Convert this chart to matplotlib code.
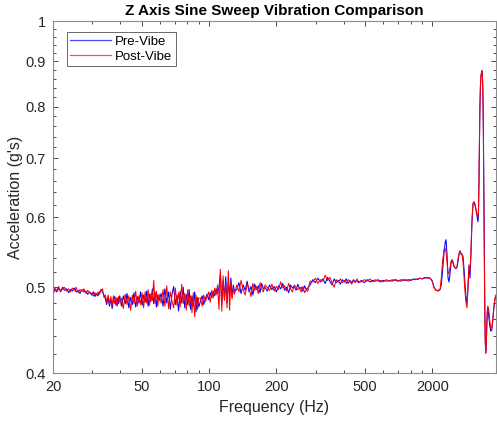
import numpy as np
import matplotlib
matplotlib.use("Agg")
import matplotlib.pyplot as plt
from matplotlib.lines import Line2D
from matplotlib.ticker import FixedLocator, NullFormatter, LogLocator

plt.rcParams['font.family'] = ['Liberation Sans', 'DejaVu Sans']

# Sweep frequencies (Hz)
freq = [
    # 20-29 Hz
    20.0, 20.4, 20.8, 21.2, 21.6, 22.1, 22.5, 23.0, 23.5, 23.9, 24.4, 24.9, 25.4, 25.9, 26.4, 27.0, 27.5, 28.1, 28.6, 29.2,
    # 30-40 Hz
    29.8, 30.3, 30.8, 31.3, 31.8, 32.3, 32.8, 33.3, 33.8, 34.3, 34.8, 35.3, 35.8, 36.3, 36.8, 37.3, 37.8, 38.3, 38.8, 39.3, 39.8,
    # 40-60 Hz
    40.5, 41.3, 42.1, 42.9, 43.7, 44.5, 45.3, 46.1, 46.9, 47.7, 48.5, 49.3, 50.1, 50.9, 51.7, 52.5, 53.3, 54.1, 54.9, 55.7,
    56.5, 57.3, 58.1, 58.9, 59.7,
    # 60-90 Hz
    61.0, 62.2, 63.4, 64.6, 65.8, 67.0, 68.2, 69.4, 70.6, 71.8, 73.0, 74.2, 75.4, 76.6, 77.8, 79.0, 80.2, 81.4, 82.6, 83.8,
    85.0, 86.2, 87.4, 88.6, 89.8,
    # 90-130 Hz
    91.5, 93.1, 94.7, 96.3, 97.9, 99.5, 101.1, 102.7, 104.3, 105.9, 107.5, 109.1, 110.7, 112.3, 113.9, 115.5, 117.1, 118.7,
    120.3, 121.9, 123.5, 125.1, 126.7, 128.3, 129.9,
    # 130-280 Hz
    133, 136, 139, 142, 145, 148, 151, 154, 157, 160, 163, 166, 169, 172, 175, 178, 182, 186.5, 191, 195.5, 200, 204.5,
    209, 213.5, 218, 222.5, 227, 231.5, 236, 240.5, 245, 249.5, 254, 258.5, 263, 267.5, 272, 276.5,
    # 280-470 Hz
    283, 291, 299, 307, 315, 323, 331, 339, 347, 355, 363, 371, 379, 387, 395, 403, 411, 419, 427, 435, 443, 451, 459, 467,
    # 480-960 Hz
    480, 495, 510, 525, 540, 555, 570, 585, 600, 620, 640, 660, 680, 700, 720, 740, 760, 780, 800, 820, 840, 860, 880, 900,
    920, 940, 956,
    # resonance region
    976, 996, 1017, 1038, 1059, 1081, 1095, 1110, 1127, 1140, 1150, 1162, 1174, 1186, 1198, 1211, 1223, 1236, 1249, 1262,
    1275, 1288, 1301, 1315, 1328, 1342, 1356, 1370, 1384, 1398, 1413, 1427, 1442, 1457, 1472, 1487, 1502, 1518, 1533, 1549,
    1565, 1581, 1597, 1606, 1614, 1622, 1630, 1639, 1647, 1656, 1664, 1673, 1681, 1690, 1698, 1707, 1716, 1724, 1733, 1742,
    1751, 1760, 1769, 1787, 1806, 1824, 1843, 1862, 1881, 1900, 1920,
]

# Response before vibration testing (g)
pre_vibe = [
    0.491, 0.497, 0.494, 0.499, 0.495, 0.500, 0.496, 0.498, 0.493, 0.497, 0.495, 0.499, 0.494, 0.496, 0.492, 0.497, 0.494, 0.495, 0.491, 0.494,
    0.490, 0.494, 0.488, 0.492, 0.489, 0.493, 0.497, 0.494, 0.490, 0.485, 0.478, 0.487, 0.476, 0.485, 0.473, 0.484, 0.488, 0.477, 0.486, 0.479, 0.489,
    0.476, 0.489, 0.479, 0.492, 0.474, 0.487, 0.478, 0.493, 0.475, 0.488, 0.480, 0.494, 0.477, 0.490, 0.481, 0.495, 0.476, 0.491, 0.482, 0.498,
    0.479, 0.493, 0.475, 0.490, 0.483,
    0.492, 0.476, 0.498, 0.480, 0.494, 0.472, 0.491, 0.501, 0.478, 0.490, 0.470, 0.495, 0.480, 0.500, 0.474, 0.491, 0.478, 0.497, 0.472, 0.489,
    0.476, 0.494, 0.469, 0.487, 0.475,
    0.482, 0.489, 0.478, 0.486, 0.491, 0.484, 0.493, 0.487, 0.495, 0.489, 0.498, 0.492, 0.500, 0.518, 0.478, 0.509, 0.486, 0.514,
    0.480, 0.507, 0.490, 0.512, 0.488, 0.503, 0.495,
    0.497, 0.506, 0.492, 0.503, 0.496, 0.508, 0.494, 0.501, 0.490, 0.504, 0.497, 0.502, 0.493, 0.505, 0.498, 0.500, 0.495, 0.503, 0.497, 0.501,
    0.494, 0.502, 0.498, 0.505, 0.496, 0.500, 0.493, 0.503, 0.499, 0.501, 0.496, 0.504, 0.498, 0.500, 0.495, 0.502, 0.497, 0.499,
    0.503, 0.510, 0.506, 0.512, 0.507, 0.511, 0.505, 0.513, 0.508, 0.503, 0.511, 0.506, 0.509, 0.504, 0.510, 0.507, 0.511, 0.505, 0.509, 0.506,
    0.510, 0.507, 0.509, 0.506,
    0.509, 0.506, 0.510, 0.507, 0.509, 0.508, 0.510, 0.507, 0.509, 0.508, 0.509, 0.508, 0.510, 0.509, 0.508, 0.510, 0.509, 0.510, 0.509, 0.511,
    0.510, 0.511, 0.512, 0.511, 0.512, 0.513, 0.512,
    0.512, 0.509, 0.500, 0.496, 0.496, 0.497, 0.503, 0.522, 0.548, 0.562, 0.566, 0.545, 0.512, 0.507, 0.518, 0.532, 0.537, 0.534, 0.528, 0.526,
    0.525, 0.527, 0.535, 0.545, 0.550, 0.546, 0.545, 0.542, 0.525, 0.505, 0.487, 0.480, 0.500, 0.530, 0.512, 0.545, 0.590, 0.620, 0.624, 0.620,
    0.612, 0.603, 0.593, 0.600, 0.650, 0.720, 0.790, 0.840, 0.862, 0.872, 0.878, 0.870, 0.840, 0.760, 0.650, 0.550, 0.470, 0.435, 0.424, 0.432,
    0.452, 0.468, 0.474, 0.463, 0.452, 0.446, 0.447, 0.458, 0.472, 0.482, 0.489,
]

# Response after vibration testing (g)
post_vibe = [
    0.493, 0.499, 0.496, 0.501, 0.494, 0.498, 0.500, 0.495, 0.498, 0.494, 0.499, 0.496, 0.500, 0.493, 0.497, 0.495, 0.498, 0.492, 0.496, 0.493,
    0.492, 0.489, 0.493, 0.490, 0.494, 0.491, 0.496, 0.498, 0.487, 0.490, 0.481, 0.490, 0.479, 0.488, 0.477, 0.489, 0.479, 0.487, 0.476, 0.488, 0.481,
    0.486, 0.473, 0.491, 0.478, 0.489, 0.471, 0.490, 0.479, 0.495, 0.476, 0.489, 0.478, 0.493, 0.474, 0.494, 0.480, 0.497, 0.477, 0.492, 0.483,
    0.509, 0.479, 0.495, 0.476, 0.491,
    0.480, 0.497, 0.476, 0.502, 0.473, 0.494, 0.482, 0.474, 0.499, 0.477, 0.493, 0.475, 0.504, 0.479, 0.492, 0.471, 0.497, 0.476, 0.489, 0.468,
    0.493, 0.463, 0.490, 0.472, 0.486,
    0.486, 0.476, 0.490, 0.482, 0.488, 0.494, 0.481, 0.496, 0.486, 0.499, 0.490, 0.503, 0.472, 0.524, 0.470, 0.515, 0.483, 0.505,
    0.474, 0.522, 0.471, 0.508, 0.485, 0.499, 0.491,
    0.503, 0.494, 0.509, 0.497, 0.490, 0.504, 0.499, 0.488, 0.505, 0.496, 0.501, 0.492, 0.506, 0.498, 0.494, 0.503, 0.500, 0.496, 0.504, 0.495,
    0.501, 0.497, 0.507, 0.499, 0.502, 0.495, 0.505, 0.498, 0.494, 0.503, 0.500, 0.497, 0.499, 0.494, 0.501, 0.493, 0.496, 0.495,
    0.508, 0.507, 0.512, 0.505, 0.510, 0.508, 0.516, 0.509, 0.513, 0.506, 0.500, 0.510, 0.507, 0.511, 0.506, 0.509, 0.505, 0.510, 0.508, 0.504,
    0.509, 0.506, 0.511, 0.507,
    0.507, 0.510, 0.508, 0.511, 0.507, 0.510, 0.508, 0.509, 0.507, 0.510, 0.508, 0.510, 0.509, 0.508, 0.510, 0.509, 0.510, 0.508, 0.510, 0.510,
    0.511, 0.510, 0.512, 0.511, 0.513, 0.512, 0.513,
    0.512, 0.508, 0.499, 0.496, 0.495, 0.497, 0.512, 0.535, 0.552, 0.553, 0.548, 0.533, 0.520, 0.518, 0.526, 0.535, 0.537, 0.533, 0.528, 0.526,
    0.525, 0.528, 0.538, 0.546, 0.549, 0.545, 0.544, 0.535, 0.515, 0.495, 0.480, 0.474, 0.500, 0.528, 0.522, 0.550, 0.595, 0.622, 0.625, 0.621,
    0.614, 0.607, 0.600, 0.605, 0.655, 0.730, 0.800, 0.845, 0.865, 0.874, 0.879, 0.868, 0.830, 0.740, 0.630, 0.530, 0.460, 0.430, 0.421, 0.433,
    0.455, 0.470, 0.476, 0.472, 0.458, 0.449, 0.450, 0.460, 0.474, 0.484, 0.490,
]

x_ticks = [20, 50, 100, 200, 500, 1000]
x_tick_labels = ['20', '50', '100', '200', '500', '2000']
y_ticks = [0.4, 0.5, 0.6, 0.7, 0.8, 0.9, 1.0]
y_tick_labels = ['0.4', '0.5', '0.6', '0.7', '0.8', '0.9', '1']

text_dark = '#262626'
pre_color = (0, 0, 1)
post_color = (1, 0, 0)

fig = plt.figure(figsize=(4.97, 4.23), dpi=100)
ax = fig.add_axes([53 / 497, 1 - 373 / 423, (496 - 53) / 497, (373 - 21) / 423])

ax.plot(freq, pre_vibe, color=pre_color, lw=0.75)
ax.plot(freq, post_vibe, color=post_color, lw=0.75)

ax.set_xscale('log')
ax.set_yscale('log')
ax.set_xlim(20, 1925)
ax.set_ylim(0.4, 1.0)

ax.xaxis.set_major_locator(FixedLocator(x_ticks))
ax.set_xticklabels(x_tick_labels)
ax.xaxis.set_minor_locator(LogLocator(base=10, subs=np.arange(2, 10)))
ax.xaxis.set_minor_formatter(NullFormatter())

ax.yaxis.set_major_locator(FixedLocator(y_ticks))
ax.set_yticklabels(y_tick_labels)
y_minor = [v for v in np.round(np.arange(0.42, 1.0, 0.02), 2) if round(v * 10, 6) % 1 != 0]
ax.yaxis.set_minor_locator(FixedLocator(y_minor))
ax.yaxis.set_minor_formatter(NullFormatter())

ax.tick_params(which='both', direction='in', top=True, right=True,
               colors=text_dark, labelcolor=text_dark, labelsize=10.5, width=0.6)
ax.tick_params(which='major', length=3.8, pad=5)
ax.tick_params(which='minor', length=2.2)
for s in ax.spines.values():
    s.set_color('#8c8c8c')
    s.set_linewidth(0.8)

ax.set_xlabel('Frequency (Hz)', fontsize=11.5, color=text_dark, labelpad=4)
ax.set_ylabel("Acceleration (g's)", fontsize=11.5, color=text_dark, labelpad=2)
ax.set_title('Z Axis Sine Sweep Vibration Comparison', fontsize=11, fontweight='bold', pad=4)

handles = [Line2D([], [], color=pre_color, lw=0.9, alpha=0.7),
           Line2D([], [], color=post_color, lw=0.9, alpha=0.7)]
leg = ax.legend(handles, ['Pre-Vibe', 'Post-Vibe'], loc='upper left',
                bbox_to_anchor=(0.032, 0.968), fontsize=9.5, frameon=True,
                fancybox=False, edgecolor=text_dark, handlelength=3.1, borderpad=0.25,
                labelspacing=0.2, handletextpad=0.3, borderaxespad=0)
leg.get_frame().set_linewidth(0.6)

fig.savefig('out.png', dpi=100)
